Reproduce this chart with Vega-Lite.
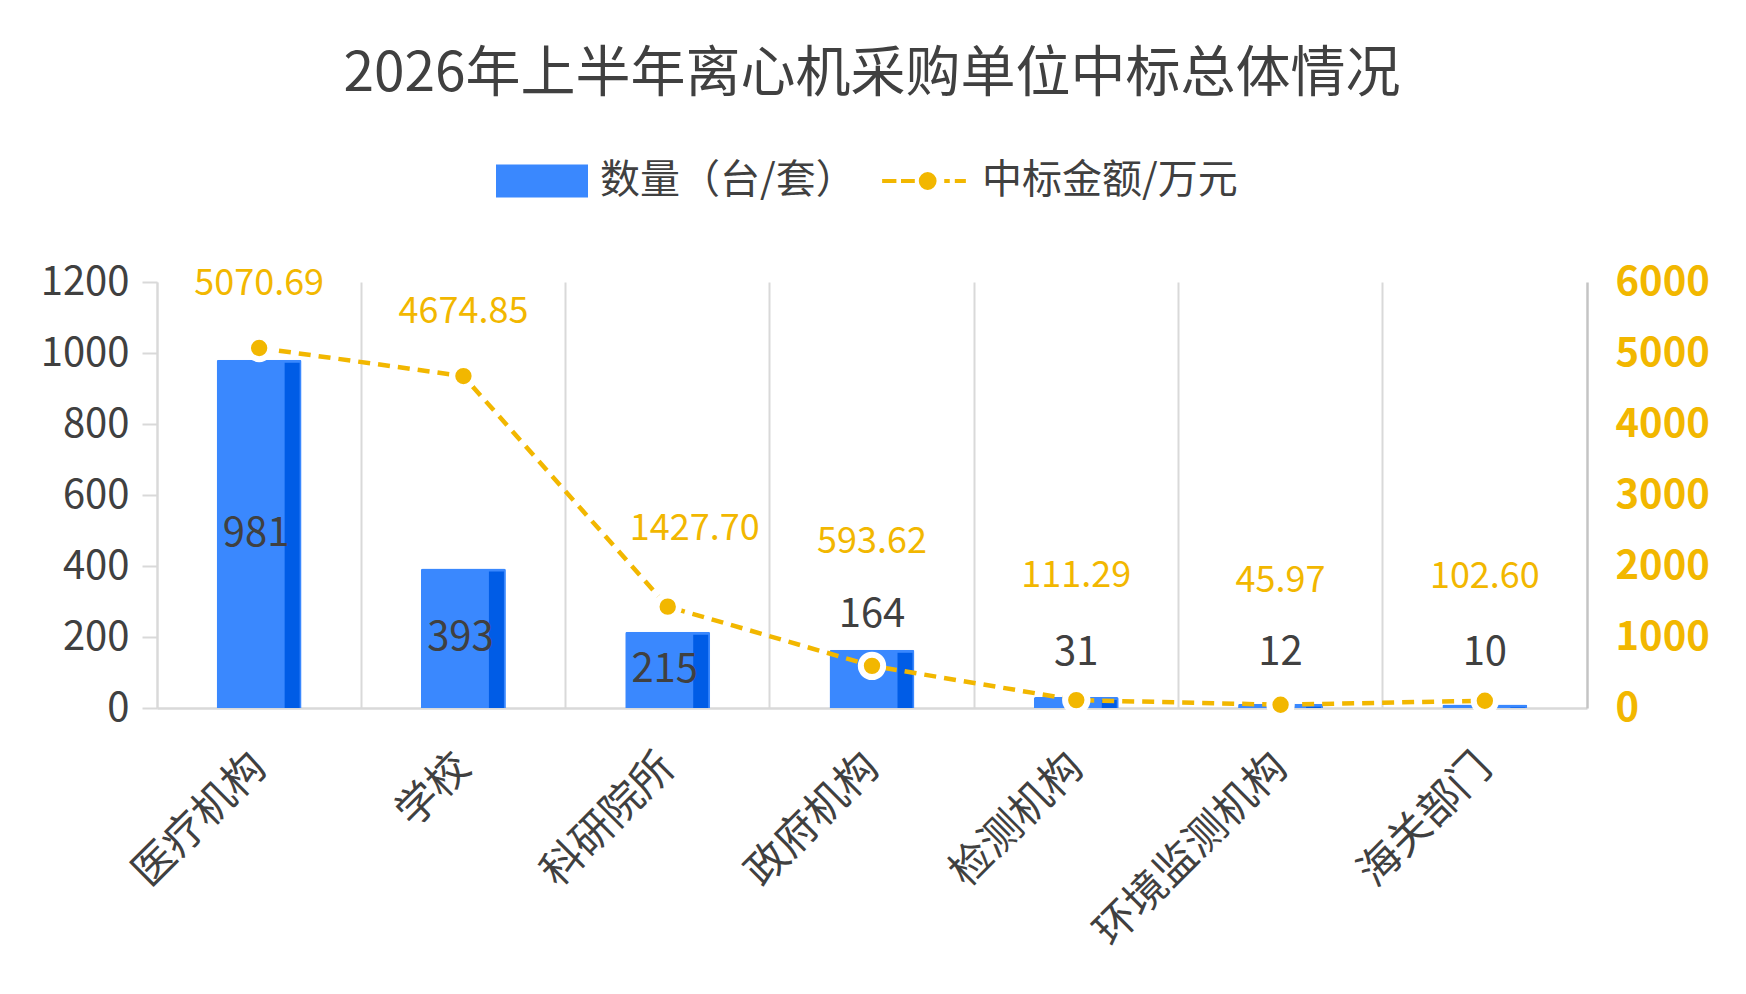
{
  "$schema": "https://vega.github.io/schema/vega-lite/v6.json",
  "description": "2026年上半年离心机采购单位中标总体情况",
  "width": 1430,
  "height": 426,
  "autosize": {"type": "none"},
  "padding": {"left": 157, "top": 282, "right": 159, "bottom": 286},
  "background": "white",
  "title": {
    "text": "2026年上半年离心机采购单位中标总体情况",
    "font": "Noto Sans CJK SC",
    "fontSize": 55,
    "fontWeight": "normal",
    "color": "#404040",
    "anchor": "middle",
    "frame": "group",
    "offset": 58
  },
  "data": {
    "values": [
      {"unit": "医疗机构", "count": 981, "amount": 5070.69},
      {"unit": "学校", "count": 393, "amount": 4674.85},
      {"unit": "科研院所", "count": 215, "amount": 1427.70},
      {"unit": "政府机构", "count": 164, "amount": 593.62},
      {"unit": "检测机构", "count": 31, "amount": 111.29},
      {"unit": "环境监测机构", "count": 12, "amount": 45.97},
      {"unit": "海关部门", "count": 10, "amount": 102.60}
    ]
  },
  "layer": [
    {
      "mark": {"type": "bar", "width": 85, "cornerRadiusTopLeft": 2, "cornerRadiusTopRight": 2},
      "encoding": {
        "x": {
          "field": "unit", "type": "nominal", "sort": null, "title": null,
          "scale": {"paddingInner": 0, "paddingOuter": 0},
          "axis": {
            "labelAngle": -45, "labelAlign": "right", "labelBaseline": "middle",
            "labelFontSize": 42, "labelColor": "#404040", "labelPadding": 52, "labelLimit": 600,
            "ticks": false, "domainColor": "#d9d9d9", "domainWidth": 2.5,
            "grid": true, "gridColor": "#d9d9d9", "gridWidth": 2, "bandPosition": 0
          }
        },
        "y": {
          "field": "count", "type": "quantitative", "title": null,
          "scale": {"domain": [0, 1200], "nice": false},
          "axis": {
            "orient": "left", "values": [0, 200, 400, 600, 800, 1000, 1200], "format": "d",
            "grid": false, "domainColor": "#d9d9d9", "domainWidth": 2,
            "tickColor": "#d9d9d9", "tickSize": 15, "tickWidth": 2,
            "labelFontSize": 40, "labelColor": "#404040", "labelPadding": 13
          }
        },
        "color": {
          "datum": "数量（台/套）",
          "scale": {"domain": ["数量（台/套）", "中标金额/万元"], "range": ["#3a88fe", "#f2b700"]},
          "legend": {
            "orient": "none", "legendX": 365, "legendY": -121, "direction": "horizontal",
            "title": null, "symbolSize": 8464, "labelFontSize": 40, "labelColor": "#404040",
            "labelOffset": 38, "columnPadding": 18, "labelLimit": 600,
            "encode": {
              "symbols": {
                "update": {
                  "shape": {"signal": "datum.value === '数量（台/套）' ? 'M-1,-0.36H1V0.36H-1Z' : 'M-0.91,0H-0.6M-0.5,0H-0.2M0.44,0H0.56M0.67,0H0.91M-0.07,0A0.15,0.15 0 1,0 0.23,0A0.15,0.15 0 1,0 -0.07,0Z'"},
                  "fill": {"signal": "datum.value === '数量（台/套）' ? '#3a88fe' : '#f2b700'"},
                  "stroke": {"signal": "datum.value === '数量（台/套）' ? '#3a88fe' : '#f2b700'"},
                  "strokeWidth": {"signal": "datum.value === '数量（台/套）' ? 0 : 4"},
                  "strokeDash": {"value": []},
                  "opacity": {"value": 1},
                  "fillOpacity": {"value": 1},
                  "strokeOpacity": {"value": 1}
                }
              }
            }
          }
        }
      }
    },
    {
      "mark": {"type": "bar", "width": 15, "xOffset": 33, "yOffset": 3, "y2Offset": 0, "color": "#005ce6"},
      "encoding": {
        "x": {"field": "unit", "type": "nominal", "sort": null},
        "y": {"field": "count", "type": "quantitative", "scale": {"domain": [0, 1200], "nice": false}, "axis": null},
        "y2": {"datum": 0}
      }
    },
    {
      "transform": [{"filter": "datum.count >= 200"}],
      "mark": {"type": "text", "fontSize": 40, "color": "#404040", "baseline": "middle", "dx": -3},
      "encoding": {
        "x": {"field": "unit", "type": "nominal", "sort": null},
        "y": {"field": "count", "type": "quantitative", "scale": {"domain": [0, 2400], "nice": false}, "axis": null},
        "text": {"field": "count", "type": "quantitative"}
      }
    },
    {
      "transform": [{"filter": "datum.count >= 100 && datum.count < 200"}],
      "mark": {"type": "text", "fontSize": 40, "color": "#404040", "baseline": "middle", "dy": -35},
      "encoding": {
        "x": {"field": "unit", "type": "nominal", "sort": null},
        "y": {"field": "count", "type": "quantitative", "scale": {"domain": [0, 1200], "nice": false}, "axis": null},
        "text": {"field": "count", "type": "quantitative"}
      }
    },
    {
      "transform": [{"filter": "datum.count >= 20 && datum.count < 100"}],
      "mark": {"type": "text", "fontSize": 40, "color": "#404040", "baseline": "middle", "dy": -44},
      "encoding": {
        "x": {"field": "unit", "type": "nominal", "sort": null},
        "y": {"field": "count", "type": "quantitative", "scale": {"domain": [0, 1200], "nice": false}, "axis": null},
        "text": {"field": "count", "type": "quantitative"}
      }
    },
    {
      "transform": [{"filter": "datum.count < 20"}],
      "mark": {"type": "text", "fontSize": 40, "color": "#404040", "baseline": "middle", "dy": -51},
      "encoding": {
        "x": {"field": "unit", "type": "nominal", "sort": null},
        "y": {"field": "count", "type": "quantitative", "scale": {"domain": [0, 1200], "nice": false}, "axis": null},
        "text": {"field": "count", "type": "quantitative"}
      }
    },
    {
      "mark": {"type": "line", "strokeWidth": 4.5, "strokeDash": [12, 8]},
      "encoding": {
        "x": {"field": "unit", "type": "nominal", "sort": null},
        "y": {
          "field": "amount", "type": "quantitative", "title": null,
          "scale": {"domain": [0, 6000], "nice": false},
          "axis": {
            "orient": "right", "values": [0, 1000, 2000, 3000, 4000, 5000, 6000], "format": "d",
            "grid": false, "ticks": false, "domainColor": "#c4c4c4", "domainWidth": 2.5,
            "labelFontSize": 40, "labelFontWeight": "bold", "labelColor": "#f2b700", "labelPadding": 28
          }
        },
        "color": {"datum": "中标金额/万元"}
      }
    },
    {
      "mark": {"type": "circle", "size": 500, "fill": "#f2b700", "stroke": "white", "strokeWidth": 6, "opacity": 1},
      "encoding": {
        "x": {"field": "unit", "type": "nominal", "sort": null},
        "y": {"field": "amount", "type": "quantitative", "scale": {"domain": [0, 6000], "nice": false}, "axis": null}
      }
    },
    {
      "transform": [{"filter": "datum.amount >= 4000"}],
      "mark": {"type": "text", "fontSize": 36, "color": "#f2b700", "baseline": "middle", "dy": -64},
      "encoding": {
        "x": {"field": "unit", "type": "nominal", "sort": null},
        "y": {"field": "amount", "type": "quantitative", "scale": {"domain": [0, 6000], "nice": false}, "axis": null},
        "text": {"field": "amount", "type": "quantitative", "format": ".2f"}
      }
    },
    {
      "transform": [{"filter": "datum.amount >= 1000 && datum.amount < 4000"}],
      "mark": {"type": "text", "fontSize": 36, "color": "#f2b700", "baseline": "middle", "dy": -78, "dx": 27},
      "encoding": {
        "x": {"field": "unit", "type": "nominal", "sort": null},
        "y": {"field": "amount", "type": "quantitative", "scale": {"domain": [0, 6000], "nice": false}, "axis": null},
        "text": {"field": "amount", "type": "quantitative", "format": ".2f"}
      }
    },
    {
      "transform": [{"filter": "datum.amount < 1000"}],
      "mark": {"type": "text", "fontSize": 36, "color": "#f2b700", "baseline": "middle", "dy": -124},
      "encoding": {
        "x": {"field": "unit", "type": "nominal", "sort": null},
        "y": {"field": "amount", "type": "quantitative", "scale": {"domain": [0, 6000], "nice": false}, "axis": null},
        "text": {"field": "amount", "type": "quantitative", "format": ".2f"}
      }
    }
  ],
  "resolve": {"scale": {"y": "independent"}},
  "config": {
    "font": "Noto Sans CJK SC",
    "view": {"stroke": null}
  }
}
